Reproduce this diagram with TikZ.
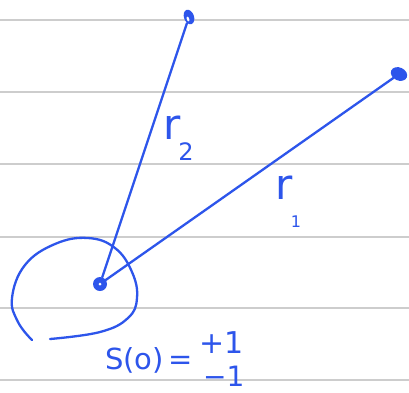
\documentclass[tikz,border=0pt]{standalone}
\usepackage{fontspec}
\usetikzlibrary{shapes.geometric}
\newfontfamily\hand{DejaVu Sans}
\begin{document}
\begin{tikzpicture}[x=1pt,y=-1pt,
  ink/.style={draw=inkblue, line width=2.3pt, line cap=round, line join=round},
  rule/.style={draw=rulegray, line width=2.5pt},
  lbl/.style={text=inkblue, inner sep=0pt},
  dotfill/.style={circle, fill=inkblue, inner sep=0pt}]
\definecolor{inkblue}{RGB}{45,85,235}
\definecolor{rulegray}{RGB}{205,205,205}
\useasboundingbox (0,0) rectangle (409,392);
\fill[white] (0,0) rectangle (409,392);
% ruled lines
\foreach \yy in {20,92,164,237,308,380} \draw[rule] (0,\yy) -- (409,\yy);
% points
\node[dotfill, minimum size=14pt] (o) at (100,284) {};
\node[ellipse, fill=inkblue, minimum width=10pt, minimum height=15pt, inner sep=0pt, rotate=20] (p2) at (189,17) {};
\node[ellipse, fill=white, minimum width=2.5pt, minimum height=5pt, inner sep=0pt, rotate=20] at (188,19) {};
\node[ellipse, fill=inkblue, minimum width=17pt, minimum height=13pt, inner sep=0pt, rotate=-25] (p1) at (399,74) {};
\node[circle, fill=white, minimum size=3pt, inner sep=0pt] at (o) {};
% connectors
\draw[ink] (o) -- (p2);
\draw[ink] (o) -- (p1);
% loop
\draw[ink] plot[smooth, tension=0.7] coordinates {(32,340) (18,322) (12,298) (25,265) (55,244) (88,238) (115,248) (132,272) (137,298) (128,318) (100,332) (50,339)};
% labels
\node[lbl, font=\hand\fontsize{42}{46}\selectfont] (r2) at (172,128) {r};
\node[lbl, font=\hand\fontsize{24}{28}\selectfont] (r2s) at (186,152) {2};
\node[lbl, font=\hand\fontsize{42}{46}\selectfont] (r1) at (284,188) {r};
\node[lbl, font=\hand\fontsize{16}{18}\selectfont] (r1s) at (296,222) {1};
\node[lbl, font=\hand\fontsize{29}{33}\selectfont, anchor=west] (s) at (105,360) {S(o)\,=};
\node[lbl, font=\hand\fontsize{30}{34}\selectfont, anchor=west] (p) at (199,343) {+1};
\node[lbl, font=\hand\fontsize{28}{32}\selectfont, anchor=west] (m) at (203,376) {−1};
\end{tikzpicture}
\end{document}
